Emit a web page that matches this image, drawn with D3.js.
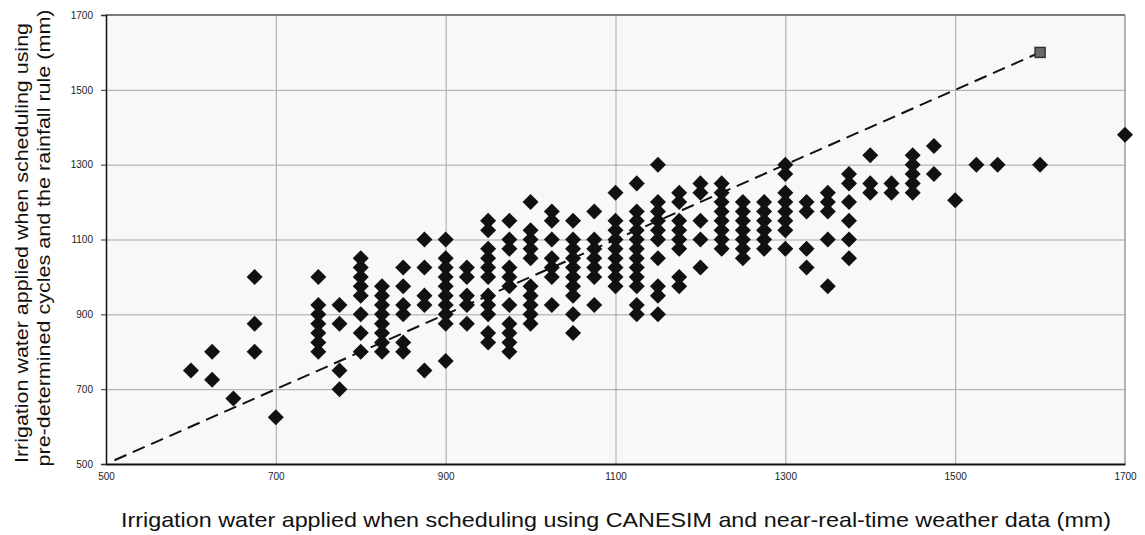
<!DOCTYPE html>
<html>
<head>
<meta charset="utf-8">
<script src="https://cdn.jsdelivr.net/npm/d3@7"></script>
<style>
  html, body { margin: 0; padding: 0; background: #ffffff; }
  svg { display: block; }
</style>
</head>
<body>
<svg id="chart" width="1145" height="535"></svg>
<script>
// Irrigation applied (mm): CANESIM scheduling (x) vs. fixed cycles + rainfall rule (y)
const columnX = [600, 625, 650, 675, 700, 750, 775, 800, 825, 850, 875, 900, 925, 950, 975,
  1000, 1025, 1050, 1075, 1100, 1125, 1150, 1175, 1200, 1225, 1250, 1275, 1300, 1325, 1350,
  1375, 1400, 1425, 1450, 1475, 1500, 1525, 1550, 1600, 1700];

const columnY = [
  [750],
  [800, 725],
  [675],
  [1000, 875, 800],
  [625],
  [1000, 925, 900, 875, 850, 825, 800],
  [925, 875, 750, 700],
  [1050, 1025, 1000, 975, 950, 900, 850, 800],
  [975, 950, 925, 900, 875, 850, 825, 800],
  [1025, 975, 925, 900, 825, 800],
  [1100, 1025, 950, 925, 750],
  [1100, 1050, 1025, 1000, 975, 950, 925, 900, 875, 775],
  [1025, 1000, 950, 925, 875],
  [1150, 1125, 1075, 1050, 1025, 1000, 950, 925, 900, 850, 825],
  [1150, 1100, 1075, 1025, 1000, 975, 925, 875, 850, 825, 800],
  [1200, 1125, 1100, 1075, 1050, 975, 950, 925, 900, 875],
  [1175, 1150, 1100, 1050, 1025, 1000, 925],
  [1150, 1100, 1075, 1050, 1025, 1000, 975, 950, 900, 850],
  [1175, 1100, 1075, 1050, 1025, 1000, 925],
  [1225, 1150, 1125, 1100, 1075, 1050, 1025, 1000, 975],
  [1250, 1175, 1150, 1125, 1100, 1075, 1050, 1025, 1000, 975, 925, 900],
  [1300, 1200, 1175, 1150, 1125, 1100, 1050, 975, 950, 900],
  [1225, 1200, 1150, 1125, 1100, 1075, 1000, 975],
  [1250, 1225, 1150, 1100, 1025],
  [1250, 1225, 1200, 1175, 1150, 1125, 1100, 1075],
  [1200, 1175, 1150, 1125, 1100, 1075, 1050],
  [1200, 1175, 1150, 1125, 1100, 1075],
  [1300, 1275, 1225, 1200, 1175, 1150, 1125, 1075],
  [1200, 1175, 1075, 1025],
  [1225, 1200, 1175, 1100, 975],
  [1275, 1250, 1200, 1150, 1100, 1050],
  [1325, 1250, 1225],
  [1250, 1225],
  [1325, 1300, 1275, 1250, 1225],
  [1350, 1275],
  [1205],
  [1300],
  [1300],
  [1300],
  [1380]
];

// 1:1 reference line, ending in a square marker
const lineX = [510, 1600];
const lineY = [510, 1600];

const xTicks = [500, 700, 900, 1100, 1300, 1500, 1700];
const yTicks = [500, 700, 900, 1100, 1300, 1500, 1700];

const xTitle = "Irrigation water applied when scheduling using CANESIM and near-real-time weather data (mm)";
const yTitleLines = [
  "Irrigation water applied when scheduling using",
  "pre-determined cycles and the rainfall rule (mm)"
];

const points = columnX.flatMap((cx, i) => columnY[i].map(cy => ({ x: cx, y: cy })));
const refLine = lineX.map((lx, i) => ({ x: lx, y: lineY[i] }));

const plot = { left: 106, right: 1125, top: 15, bottom: 464 };
const x = d3.scaleLinear().domain([500, 1700]).range([plot.left, plot.right]);
const y = d3.scaleLinear().domain([500, 1700]).range([plot.bottom, plot.top]);

const svg = d3.select("#chart");
const labelFont = "'Liberation Sans Narrow', 'Liberation Sans', Arial, sans-serif";
const titleFont = "'Liberation Sans', Arial, sans-serif";

// plot area background
svg.append("rect")
  .attr("x", plot.left).attr("y", plot.top)
  .attr("width", plot.right - plot.left).attr("height", plot.bottom - plot.top)
  .attr("fill", "#f8f8f8");

// grid
const grid = svg.append("g").attr("stroke", "#a6a6a6").attr("stroke-width", 1);
grid.selectAll("line.v").data(xTicks.slice(1, -1)).join("line")
  .attr("class", "v")
  .attr("x1", d => x(d) + 0.5).attr("x2", d => x(d) + 0.5)
  .attr("y1", plot.top).attr("y2", plot.bottom);
grid.selectAll("line.h").data(yTicks.slice(1, -1)).join("line")
  .attr("class", "h")
  .attr("y1", d => y(d) + 0.5).attr("y2", d => y(d) + 0.5)
  .attr("x1", plot.left).attr("x2", plot.right);

// frame: grey top/right, black axes
svg.append("line").attr("x1", plot.left).attr("x2", plot.right)
  .attr("y1", plot.top).attr("y2", plot.top)
  .attr("stroke", "#7a7a7a").attr("stroke-width", 2);
svg.append("line").attr("x1", plot.right).attr("x2", plot.right)
  .attr("y1", plot.top).attr("y2", plot.bottom)
  .attr("stroke", "#9a9a9a").attr("stroke-width", 1.5);

// y axis
const yAxis = svg.append("g")
  .attr("transform", `translate(${plot.left},0)`)
  .call(d3.axisLeft(y).tickValues(yTicks).tickSize(5).tickPadding(8).tickFormat(d3.format("d")));
yAxis.select(".domain").attr("stroke", "#111").attr("stroke-width", 1.5);
yAxis.selectAll(".tick line").attr("stroke", "#333");
yAxis.selectAll("text").attr("font-family", labelFont).attr("font-size", 10).attr("fill", "#222");

// x axis
const xAxis = svg.append("g")
  .attr("transform", `translate(0,${plot.bottom})`)
  .call(d3.axisBottom(x).tickValues(xTicks).tickSize(0).tickPadding(9).tickFormat(d3.format("d")));
xAxis.select(".domain").attr("stroke", "#111").attr("stroke-width", 2);
xAxis.selectAll("text").attr("font-family", labelFont).attr("font-size", 10).attr("fill", "#222");

// 1:1 dashed line
svg.append("path")
  .datum(refLine)
  .attr("d", d3.line().x(d => x(d.x)).y(d => y(d.y)))
  .attr("fill", "none")
  .attr("stroke", "#111")
  .attr("stroke-width", 2)
  .attr("stroke-dasharray", "13,7");

const endPt = refLine[refLine.length - 1];
svg.append("rect")
  .attr("x", x(endPt.x) - 5).attr("y", y(endPt.y) - 5)
  .attr("width", 10).attr("height", 10)
  .attr("fill", "#6a6a6a").attr("stroke", "#333").attr("stroke-width", 1.5);

// diamonds
const diamond = d3.symbol().type(d3.symbolSquare).size(128);
svg.append("g").selectAll("path").data(points).join("path")
  .attr("d", diamond)
  .attr("transform", d => `translate(${x(d.x)},${y(d.y)}) rotate(45)`)
  .attr("fill", "#111");

// axis titles
svg.append("text")
  .attr("x", 616).attr("y", 527)
  .attr("text-anchor", "middle")
  .attr("font-family", labelFont).attr("font-size", 21).attr("fill", "#111")
  .attr("textLength", 990).attr("lengthAdjust", "spacingAndGlyphs")
  .text(xTitle);

const yTitle = svg.append("g").attr("font-family", titleFont).attr("font-size", 19).attr("fill", "#111");
const yTitleX = [28, 50];
const yTitleLen = [440, 457];
const yTitleCenter = [243, 238];
yTitleLines.forEach((t, i) => {
  yTitle.append("text")
    .attr("transform", `translate(${yTitleX[i]},${yTitleCenter[i]}) rotate(-90)`)
    .attr("text-anchor", "middle")
    .attr("textLength", yTitleLen[i]).attr("lengthAdjust", "spacingAndGlyphs")
    .text(t);
});
</script>
</body>
</html>
